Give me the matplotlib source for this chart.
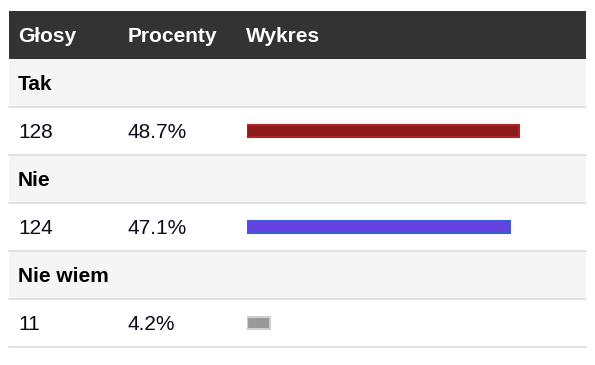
import matplotlib
matplotlib.use("Agg")
import matplotlib.pyplot as plt
from matplotlib.patches import Rectangle

plt.rcParams['font.family'] = ['Liberation Sans', 'DejaVu Sans']

headers = ["Głosy", "Procenty", "Wykres"]
answers = ["Tak", "Nie", "Nie wiem"]
votes = [128, 124, 11]
percents = [48.7, 47.1, 4.2]
percent_labels = ["48.7%", "47.1%", "4.2%"]
bar_fill = ["#8e1b1b", "#6442e0", "#999999"]
bar_edge = ["#b02424", "#3c5cd8", "#cfcfcf"]

W, H = 595, 365
fig = plt.figure(figsize=(W / 100, H / 100), dpi=100)
ax = fig.add_axes([0, 0, 1, 1])
ax.set_xlim(0, W)
ax.set_ylim(H, 0)
ax.axis('off')

left, right = 9, 586
top = 11
head_h = 48
row_h = 48
col_x = [18, 128, 246]
fs = 15.0
base_off = 7.3

# header
ax.add_patch(Rectangle((left, top), right - left, head_h, facecolor="#333333", edgecolor="none"))
for x, h in zip(col_x, headers):
    ax.text(x, top + head_h / 2 + base_off, h, color="white", fontsize=fs, fontweight="bold",
            va="baseline", ha="left")

bar_centers = []
y = top + head_h
for i, (ans, v, pl) in enumerate(zip(answers, votes, percent_labels)):
    ax.add_patch(Rectangle((left, y), right - left, row_h, facecolor="#f5f5f5", edgecolor="none"))
    ax.text(col_x[0], y + row_h / 2 + base_off, ans, color="black", fontsize=fs, fontweight="bold",
            va="baseline", ha="left")
    y += row_h
    ax.plot([left, right], [y, y], color="#dddddd", lw=1.2)
    ax.text(col_x[0], y + row_h / 2 + base_off, str(v), color="#0a0a1a", fontsize=fs,
            va="baseline", ha="left")
    ax.text(col_x[1], y + row_h / 2 + base_off, pl, color="#0a0a1a", fontsize=fs,
            va="baseline", ha="left")
    bar_centers.append(y + row_h / 2)
    y += row_h
    ax.plot([left, right], [y, y], color="#dddddd", lw=1.2)

# bar axes: x in percent, y in pixel rows
bx0 = 247
px_per_pct = 272 / 48.7
bax = fig.add_axes([bx0 / W, 0, (right - bx0) / W, 1])
bax.set_xlim(0, (right - bx0) / px_per_pct)
bax.set_ylim(H, 0)
bax.axis('off')
bax.patch.set_alpha(0)
bax.barh(bar_centers, percents, height=12.5, left=0, color=bar_fill,
         edgecolor=bar_edge, linewidth=1.5, align='center')

fig.savefig("out.png", dpi=100)
